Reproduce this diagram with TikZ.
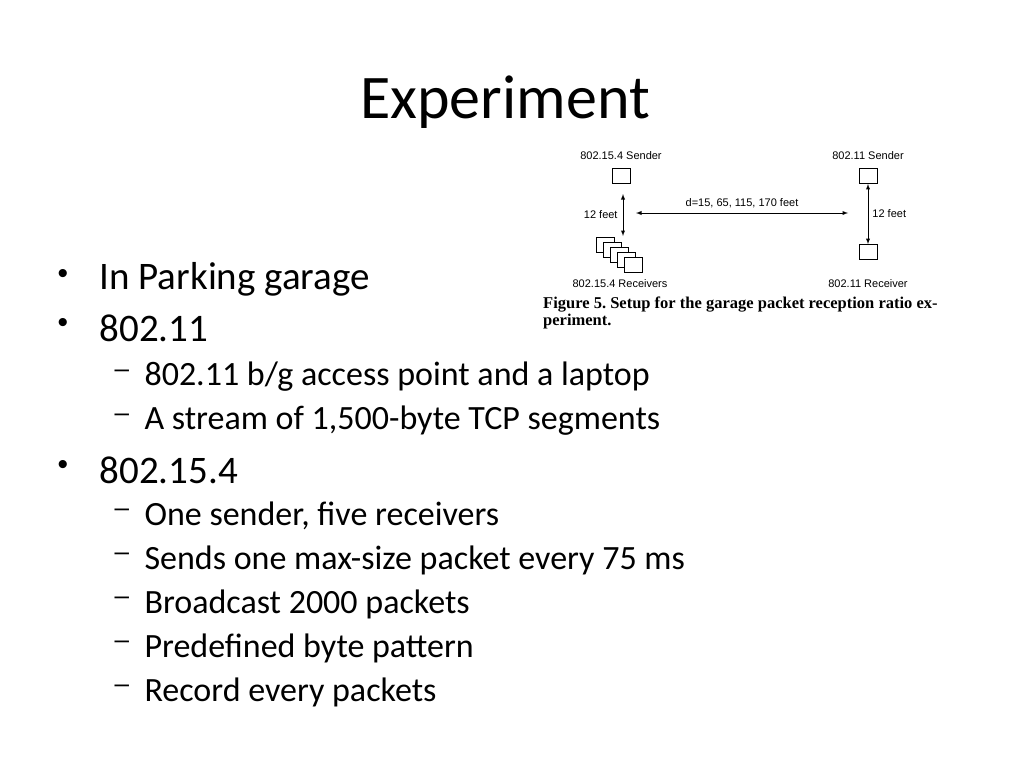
\documentclass[tikz,border=0pt]{standalone}
\usepackage{fontspec}
\setmainfont{Carlito}
\newfontfamily\figsans{Liberation Sans}
\newfontfamily\figserif{Liberation Serif}
\usetikzlibrary{positioning}
\tikzset{
  bullet/.style={anchor=west, font=\fontsize{39}{39}\selectfont},
  subitem/.style={anchor=west, font=\fontsize{34}{34}\selectfont},
  dev/.style={draw, fill=white, minimum width=18pt, minimum height=15pt, inner sep=0pt, line width=0.9pt},
  figlbl/.style={font=\figsans\fontsize{11}{11}\selectfont, inner sep=1pt},
  dist/.style={<->, >=latex, line width=0.9pt}
}
\frenchspacing
\begin{document}
\begin{tikzpicture}[x=1pt,y=-1pt]
\useasboundingbox (0,0) rectangle (1024,768);

\node[font=\fontsize{62}{62}\selectfont] (title) at (505,102) {Experiment};

% bullets
\foreach \y/\t [count=\i] in {279/In Parking garage, 328/802.11, 470/802.15.4}{
  \node[bullet, font=\figsans\fontsize{30}{30}\selectfont] (dot\i) at (54,\y-3) {\textbullet};
  \node[bullet] (b\i) at (96,\y) {\t};
}
\foreach \y/\t [count=\i] in {377/{802.11 b/g access point and a laptop},
    421/{A stream of 1,500-byte TCP segments},
    516/{One sender, five receivers},
    560/{Sends one max-size packet every 75 ms},
    604/{Broadcast 2000 packets},
    648/{Predefined byte pattern},
    692/{Record every packets}}{
  \node[subitem, font=\figsans\fontsize{26}{26}\selectfont] (dash\i) at (111,\y-3) {\textendash};
  \node[subitem] (s\i) at (141,\y) {\t};
}

% figure
\node[figlbl] (zsendl) at (621,156) {802.15.4 Sender};
\node[dev] (zsend) at (621,176) {};
\node[figlbl] (wsendl) at (868,156) {802.11 Sender};
\node[dev] (wsend) at (868,176) {};
\node[dev] (wrecv) at (868,252) {};
\node[figlbl] (wrecvl) at (868,284) {802.11 Receiver};
\foreach \k in {0,...,4}
  \node[dev] (zr\k) at (605+7*\k,245+5*\k) {};
\node[figlbl] (zrecvl) at (620,284) {802.15.4 Receivers};

\coordinate (zt) at (623,194);
\coordinate (zb) at (623,236);
\draw[dist] (zt) -- (zb) node[figlbl, midway, left=4pt] {12 feet};
\draw[dist] (wsend) -- (wrecv) node[figlbl, midway, right=3pt] {12 feet};
\coordinate (hl) at (636,213);
\coordinate (hr) at (848,213);
\draw[dist] (hl) -- (hr) node[figlbl, midway, above=4pt] {d=15, 65, 115, 170 feet};

\node[anchor=west, font=\figserif\bfseries\fontsize{16.5}{18}\selectfont, inner sep=0pt] (cap1) at (543,305) {Figure 5. Setup for the garage packet reception ratio ex-};
\node[anchor=west, font=\figserif\bfseries\fontsize{16.5}{18}\selectfont, inner sep=0pt] (cap2) at (543,322) {periment.};
\end{tikzpicture}
\end{document}
